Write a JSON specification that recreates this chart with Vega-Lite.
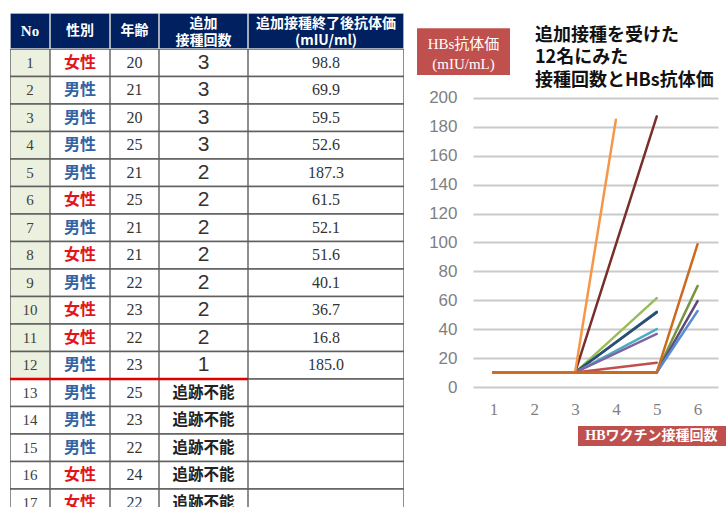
{
  "$schema": "https://vega.github.io/schema/vega-lite/v6.json",
  "background": "white",
  "padding": {"left": 10, "top": 13, "right": 0, "bottom": 0},
  "spacing": 13,
  "config": {"view": {"stroke": null}, "axis": {"labelOverlap": false}},
  "datasets": {
    "tbl": [
      {"No": 1, "sex": "女性", "age": 20, "extra": "3", "titer": "98.8"},
      {"No": 2, "sex": "男性", "age": 21, "extra": "3", "titer": "69.9"},
      {"No": 3, "sex": "男性", "age": 20, "extra": "3", "titer": "59.5"},
      {"No": 4, "sex": "男性", "age": 25, "extra": "3", "titer": "52.6"},
      {"No": 5, "sex": "男性", "age": 21, "extra": "2", "titer": "187.3"},
      {"No": 6, "sex": "女性", "age": 25, "extra": "2", "titer": "61.5"},
      {"No": 7, "sex": "男性", "age": 21, "extra": "2", "titer": "52.1"},
      {"No": 8, "sex": "女性", "age": 21, "extra": "2", "titer": "51.6"},
      {"No": 9, "sex": "男性", "age": 22, "extra": "2", "titer": "40.1"},
      {"No": 10, "sex": "女性", "age": 23, "extra": "2", "titer": "36.7"},
      {"No": 11, "sex": "女性", "age": 22, "extra": "2", "titer": "16.8"},
      {"No": 12, "sex": "男性", "age": 23, "extra": "1", "titer": "185.0"},
      {"No": 13, "sex": "男性", "age": 25, "extra": "追跡不能", "titer": ""},
      {"No": 14, "sex": "男性", "age": 23, "extra": "追跡不能", "titer": ""},
      {"No": 15, "sex": "男性", "age": 22, "extra": "追跡不能", "titer": ""},
      {"No": 16, "sex": "女性", "age": 24, "extra": "追跡不能", "titer": ""},
      {"No": 17, "sex": "女性", "age": 22, "extra": "追跡不能", "titer": ""}
    ],
    "lines": [
      {"subject": 2, "dose": 1, "value": 10}, {"subject": 2, "dose": 2, "value": 10}, {"subject": 2, "dose": 3, "value": 10}, {"subject": 2, "dose": 4, "value": 10}, {"subject": 2, "dose": 5, "value": 10}, {"subject": 2, "dose": 6, "value": 69.9},
      {"subject": 3, "dose": 1, "value": 10}, {"subject": 3, "dose": 2, "value": 10}, {"subject": 3, "dose": 3, "value": 10}, {"subject": 3, "dose": 4, "value": 10}, {"subject": 3, "dose": 5, "value": 10}, {"subject": 3, "dose": 6, "value": 59.5},
      {"subject": 4, "dose": 1, "value": 10}, {"subject": 4, "dose": 2, "value": 10}, {"subject": 4, "dose": 3, "value": 10}, {"subject": 4, "dose": 4, "value": 10}, {"subject": 4, "dose": 5, "value": 10}, {"subject": 4, "dose": 6, "value": 52.6},
      {"subject": 5, "dose": 1, "value": 10}, {"subject": 5, "dose": 2, "value": 10}, {"subject": 5, "dose": 3, "value": 10}, {"subject": 5, "dose": 5, "value": 187.3},
      {"subject": 6, "dose": 1, "value": 10}, {"subject": 6, "dose": 2, "value": 10}, {"subject": 6, "dose": 3, "value": 10}, {"subject": 6, "dose": 5, "value": 61.5},
      {"subject": 7, "dose": 1, "value": 10}, {"subject": 7, "dose": 2, "value": 10}, {"subject": 7, "dose": 3, "value": 10}, {"subject": 7, "dose": 5, "value": 52.1},
      {"subject": 8, "dose": 1, "value": 10}, {"subject": 8, "dose": 2, "value": 10}, {"subject": 8, "dose": 3, "value": 10}, {"subject": 8, "dose": 5, "value": 51.6},
      {"subject": 9, "dose": 1, "value": 10}, {"subject": 9, "dose": 2, "value": 10}, {"subject": 9, "dose": 3, "value": 10}, {"subject": 9, "dose": 5, "value": 40.1},
      {"subject": 10, "dose": 1, "value": 10}, {"subject": 10, "dose": 2, "value": 10}, {"subject": 10, "dose": 3, "value": 10}, {"subject": 10, "dose": 5, "value": 36.7},
      {"subject": 11, "dose": 1, "value": 10}, {"subject": 11, "dose": 2, "value": 10}, {"subject": 11, "dose": 3, "value": 10}, {"subject": 11, "dose": 5, "value": 16.8},
      {"subject": 12, "dose": 1, "value": 10}, {"subject": 12, "dose": 2, "value": 10}, {"subject": 12, "dose": 3, "value": 10}, {"subject": 12, "dose": 4, "value": 185.0},
      {"subject": 1, "dose": 1, "value": 10}, {"subject": 1, "dose": 2, "value": 10}, {"subject": 1, "dose": 3, "value": 10}, {"subject": 1, "dose": 4, "value": 10}, {"subject": 1, "dose": 5, "value": 10}, {"subject": 1, "dose": 6, "value": 98.8}
    ]
  },
  "hconcat": [
    {
      "hconcat": [
        {
          "vconcat": [
            {
              "width": 40, "height": 36,
              "data": {"values": [{"h": "No"}]},
              "layer": [
                {"mark": {"type": "rect", "fill": "#002060", "stroke": "#D9D9D9", "strokeWidth": 1.5, "clip": true}, "encoding": {}},
                {"mark": {"type": "text", "font": "Liberation Serif", "fontWeight": "bold", "fontSize": 15, "color": "white", "clip": true}, "encoding": {"text": {"field": "h", "type": "nominal"}}}
              ]
            },
            {
              "width": 40, "height": {"step": 27.5},
              "data": {"name": "tbl"},
              "encoding": {"y": {"field": "No", "type": "ordinal", "axis": null, "scale": {"paddingInner": 0, "paddingOuter": 0}}},
              "layer": [
                {"mark": {"type": "rect", "stroke": "#5F5F5F", "strokeWidth": 1.4, "clip": true}, "encoding": {"fill": {"condition": {"test": "datum.No <= 12", "value": "#EBF1DE"}, "value": "white"}}},
                {"mark": {"type": "text", "font": "Liberation Serif", "fontSize": 15, "color": "#404040", "clip": true}, "encoding": {"text": {"field": "No", "type": "nominal"}}},
                {"transform": [{"filter": "datum.No == 12"}], "mark": {"type": "rule", "color": "#E00000", "strokeWidth": 2.5, "clip": true}, "encoding": {"y": {"field": "No", "type": "ordinal", "bandPosition": 1}}}
              ]
            }
          ],
          "spacing": 0
        },
        {
          "vconcat": [
            {
              "width": 60, "height": 36,
              "data": {"values": [{"h": "性別"}]},
              "layer": [
                {"mark": {"type": "rect", "fill": "#002060", "stroke": "#D9D9D9", "strokeWidth": 1.5, "clip": true}, "encoding": {}},
                {"mark": {"type": "text", "font": "Noto Sans CJK JP", "fontWeight": "bold", "fontSize": 14, "color": "white", "clip": true}, "encoding": {"text": {"field": "h", "type": "nominal"}}}
              ]
            },
            {
              "width": 60, "height": {"step": 27.5},
              "data": {"name": "tbl"},
              "encoding": {"y": {"field": "No", "type": "ordinal", "axis": null, "scale": {"paddingInner": 0, "paddingOuter": 0}}},
              "layer": [
                {"mark": {"type": "rect", "fill": "white", "stroke": "#5F5F5F", "strokeWidth": 1.4, "clip": true}, "encoding": {}},
                {"mark": {"type": "text", "font": "Noto Sans CJK JP", "fontWeight": "bold", "fontSize": 16, "clip": true}, "encoding": {"text": {"field": "sex", "type": "nominal"}, "color": {"condition": {"test": "datum.sex == '女性'", "value": "#E2141B"}, "value": "#3462A3"}}},
                {"transform": [{"filter": "datum.No == 12"}], "mark": {"type": "rule", "color": "#E00000", "strokeWidth": 2.5, "clip": true}, "encoding": {"y": {"field": "No", "type": "ordinal", "bandPosition": 1}}}
              ]
            }
          ],
          "spacing": 0
        },
        {
          "vconcat": [
            {
              "width": 49, "height": 36,
              "data": {"values": [{"h": "年齢"}]},
              "layer": [
                {"mark": {"type": "rect", "fill": "#002060", "stroke": "#D9D9D9", "strokeWidth": 1.5, "clip": true}, "encoding": {}},
                {"mark": {"type": "text", "font": "Noto Sans CJK JP", "fontWeight": "bold", "fontSize": 14, "color": "white", "clip": true}, "encoding": {"text": {"field": "h", "type": "nominal"}}}
              ]
            },
            {
              "width": 49, "height": {"step": 27.5},
              "data": {"name": "tbl"},
              "encoding": {"y": {"field": "No", "type": "ordinal", "axis": null, "scale": {"paddingInner": 0, "paddingOuter": 0}}},
              "layer": [
                {"mark": {"type": "rect", "fill": "white", "stroke": "#5F5F5F", "strokeWidth": 1.4, "clip": true}, "encoding": {}},
                {"mark": {"type": "text", "font": "Liberation Serif", "fontSize": 16, "color": "#333333", "clip": true}, "encoding": {"text": {"field": "age", "type": "nominal"}}},
                {"transform": [{"filter": "datum.No == 12"}], "mark": {"type": "rule", "color": "#E00000", "strokeWidth": 2.5, "clip": true}, "encoding": {"y": {"field": "No", "type": "ordinal", "bandPosition": 1}}}
              ]
            }
          ],
          "spacing": 0
        },
        {
          "vconcat": [
            {
              "width": 89, "height": 36,
              "data": {"values": [{"h": "追加\n接種回数"}]},
              "layer": [
                {"mark": {"type": "rect", "fill": "#002060", "stroke": "#D9D9D9", "strokeWidth": 1.5, "clip": true}, "encoding": {}},
                {"mark": {"type": "text", "font": "Noto Sans CJK JP", "fontWeight": "bold", "fontSize": 14, "lineHeight": 17, "lineBreak": "\n", "dy": -7, "color": "white", "clip": true}, "encoding": {"text": {"field": "h", "type": "nominal"}}}
              ]
            },
            {
              "width": 89, "height": {"step": 27.5},
              "data": {"name": "tbl"},
              "encoding": {"y": {"field": "No", "type": "ordinal", "axis": null, "scale": {"paddingInner": 0, "paddingOuter": 0}}},
              "layer": [
                {"mark": {"type": "rect", "fill": "white", "stroke": "#5F5F5F", "strokeWidth": 1.4, "clip": true}, "encoding": {}},
                {"transform": [{"filter": "datum.extra != '追跡不能'"}], "mark": {"type": "text", "font": "Liberation Sans", "fontSize": 21, "color": "#333333", "clip": true}, "encoding": {"text": {"field": "extra", "type": "nominal"}}},
                {"transform": [{"filter": "datum.extra == '追跡不能'"}], "mark": {"type": "text", "font": "Noto Sans CJK JP", "fontWeight": "bold", "fontSize": 15.5, "color": "#222222", "clip": true}, "encoding": {"text": {"field": "extra", "type": "nominal"}}},
                {"transform": [{"filter": "datum.No == 12"}], "mark": {"type": "rule", "color": "#E00000", "strokeWidth": 2.5, "clip": true}, "encoding": {"y": {"field": "No", "type": "ordinal", "bandPosition": 1}}}
              ]
            }
          ],
          "spacing": 0
        },
        {
          "vconcat": [
            {
              "width": 156, "height": 36,
              "data": {"values": [{"h": "追加接種終了後抗体価\n(mIU/ml)"}]},
              "layer": [
                {"mark": {"type": "rect", "fill": "#002060", "stroke": "#D9D9D9", "strokeWidth": 1.5, "clip": true}, "encoding": {}},
                {"mark": {"type": "text", "font": "Noto Sans CJK JP", "fontWeight": "bold", "fontSize": 14, "lineHeight": 17, "lineBreak": "\n", "dy": -7, "color": "white", "clip": true}, "encoding": {"text": {"field": "h", "type": "nominal"}}}
              ]
            },
            {
              "width": 156, "height": {"step": 27.5},
              "data": {"name": "tbl"},
              "encoding": {"y": {"field": "No", "type": "ordinal", "axis": null, "scale": {"paddingInner": 0, "paddingOuter": 0}}},
              "layer": [
                {"mark": {"type": "rect", "fill": "white", "stroke": "#5F5F5F", "strokeWidth": 1.4, "clip": true}, "encoding": {}},
                {"mark": {"type": "text", "font": "Liberation Serif", "fontSize": 16, "color": "#333333", "clip": true}, "encoding": {"text": {"field": "titer", "type": "nominal"}}}
              ]
            }
          ],
          "spacing": 0
        }
      ],
      "spacing": 0
    },
    {
      "width": 245, "height": 374,
      "layer": [
        {
          "data": {"name": "lines"},
          "mark": {"type": "line", "strokeWidth": 2.5, "strokeCap": "round"},
          "encoding": {
            "x": {"field": "dose", "type": "quantitative", "scale": {"domain": [0.5, 6.5], "nice": false, "zero": false},
                  "axis": {"title": null, "values": [1, 2, 3, 4, 5, 6], "format": "d", "domain": false, "ticks": false, "grid": false, "labelFlush": false, "labelOverlap": false, "labelPadding": 14, "labelFont": "Liberation Serif", "labelFontSize": 17, "labelColor": "#7F7F7F"}},
            "y": {"field": "value", "type": "quantitative", "scale": {"domain": [0, 258.8], "nice": false},
                  "axis": {"title": null, "values": [0, 20, 40, 60, 80, 100, 120, 140, 160, 180, 200], "tickCount": 20, "format": "d", "domain": false, "ticks": false, "grid": true, "gridColor": "#CACACA", "gridWidth": 2, "labelOverlap": false, "labelBound": false, "labelPadding": 16, "labelFont": "Liberation Sans", "labelFontSize": 17, "labelColor": "#7F7F7F"}},
            "color": {"field": "subject", "type": "nominal", "legend": null,
                      "scale": {"domain": [1, 2, 3, 4, 5, 6, 7, 8, 9, 10, 11, 12],
                                "range": ["#CC6A1F", "#77933C", "#5F497A", "#558ED5", "#7A2E2C", "#9BBB59", "#2A6B7C", "#2C4D75", "#4BACC6", "#8064A2", "#C0504D", "#F79646"]}}
          }
        },
        {
          "data": {"values": [{}]},
          "mark": {"type": "rect", "fill": "#B0B0B0", "opacity": 0.6, "xOffset": 2, "yOffset": 2},
          "encoding": {"x": {"datum": -0.871, "type": "quantitative"}, "x2": {"datum": 1.406}, "y": {"datum": 248.3, "type": "quantitative"}, "y2": {"datum": 215.9}}
        },
        {
          "data": {"values": [{}]},
          "mark": {"type": "rect", "fill": "#C0504D"},
          "encoding": {"x": {"datum": -0.871, "type": "quantitative"}, "x2": {"datum": 1.406}, "y": {"datum": 248.3, "type": "quantitative"}, "y2": {"datum": 215.9}}
        },
        {
          "data": {"values": [{"label": "HBs抗体価\n(mIU/mL)"}]},
          "mark": {"type": "text", "font": "Liberation Serif, Noto Sans CJK JP", "fontSize": 15, "lineHeight": 20, "lineBreak": "\n", "color": "white", "align": "center", "baseline": "middle"},
          "encoding": {"x": {"datum": 0.267, "type": "quantitative"}, "y": {"datum": 237.3, "type": "quantitative"}, "text": {"field": "label", "type": "nominal"}}
        },
        {
          "data": {"values": [{"label": "追加接種を受けた\n12名にみた\n接種回数とHBs抗体価"}]},
          "mark": {"type": "text", "font": "Noto Sans CJK JP", "fontWeight": "bold", "fontSize": 18, "lineHeight": 22.5, "lineBreak": "\n", "color": "#111111", "align": "left", "baseline": "middle"},
          "encoding": {"x": {"datum": 2.018, "type": "quantitative"}, "y": {"datum": 242.9, "type": "quantitative"}, "text": {"field": "label", "type": "nominal"}}
        },
        {
          "data": {"values": [{}]},
          "mark": {"type": "rect", "fill": "#B0B0B0", "opacity": 0.6, "xOffset": 2, "yOffset": 3},
          "encoding": {"x": {"datum": 3.071, "type": "quantitative"}, "x2": {"datum": 6.745}, "y": {"datum": -27.0, "type": "quantitative"}, "y2": {"datum": -40.8}}
        },
        {
          "data": {"values": [{}]},
          "mark": {"type": "rect", "fill": "#C0504D"},
          "encoding": {"x": {"datum": 3.071, "type": "quantitative"}, "x2": {"datum": 6.745}, "y": {"datum": -27.0, "type": "quantitative"}, "y2": {"datum": -40.8}}
        },
        {
          "data": {"values": [{"label": "HBワクチン接種回数"}]},
          "mark": {"type": "text", "font": "Liberation Serif, Noto Sans CJK JP", "fontWeight": "bold", "fontSize": 14, "color": "white", "align": "center", "baseline": "middle"},
          "encoding": {"x": {"datum": 4.871, "type": "quantitative"}, "y": {"datum": -33.6, "type": "quantitative"}, "text": {"field": "label", "type": "nominal"}}
        }
      ]
    }
  ]
}
